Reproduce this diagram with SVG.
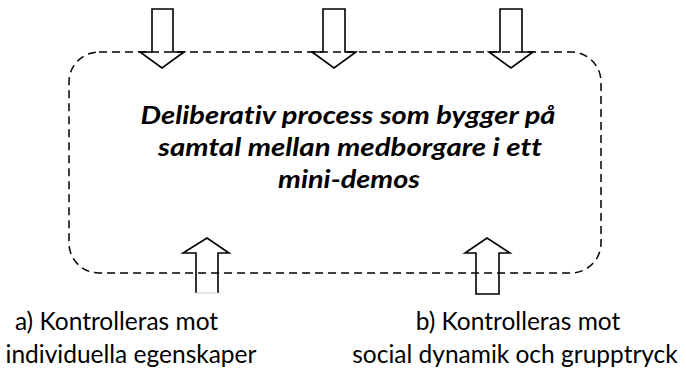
<svg xmlns="http://www.w3.org/2000/svg" width="686" height="370" viewBox="0 0 686 370">
<style>
.arrow{fill:none;stroke:#000;stroke-width:1.6;stroke-linejoin:miter}
.box{fill:none;stroke:#000;stroke-width:1.5;stroke-dasharray:8 5}
.main{font-family:Lato,"Open Sans",sans-serif;font-weight:bold;font-style:italic;font-size:25px;fill:#000;text-anchor:middle;font-variant-ligatures:none}
.lbl{font-family:Lato,"Open Sans",sans-serif;font-size:24.5px;fill:#000;text-anchor:middle;font-variant-ligatures:none}
</style>
<rect width="686" height="370" fill="#fff"/>
<g id="process">
<rect class="box" x="69" y="52" width="532" height="221" rx="30" ry="30"/>
<text class="main" x="348" y="124" textLength="415" lengthAdjust="spacingAndGlyphs">Deliberativ process som bygger på</text>
<text class="main" x="350" y="156" textLength="384" lengthAdjust="spacingAndGlyphs">samtal mellan medborgare i ett</text>
<text class="main" x="349" y="188" textLength="142" lengthAdjust="spacingAndGlyphs">mini-demos</text>
</g>
<g id="connectors">
<path class="arrow" d="M152,9 H173 V52 H184 L162,68 L140,52 H152 Z"/>
<path class="arrow" d="M323,9 H345 V52 H356 L334,68 L312,52 H323 Z"/>
<path class="arrow" d="M500,9 H522 V52 H533 L511,68 L489,52 H500 Z"/>
<path class="arrow" d="M196,293 V253 H183 L207,238 L229,253 H218 V293"/>
<path d="M196,293 H218" stroke="#ccc" stroke-width="1" fill="none"/>
<path class="arrow" d="M476,294 V253 H465 L487,238 L510,253 H499 V294 Z"/>
</g>
<g id="label-a">
<text class="lbl" x="116.5" y="330">a) Kontrolleras mot</text>
<text class="lbl" x="131" y="363">individuella egenskaper</text>
</g>
<g id="label-b">
<text class="lbl" x="518" y="330">b) Kontrolleras mot</text>
<text class="lbl" x="515" y="363">social dynamik och grupptryck</text>
</g>
</svg>
